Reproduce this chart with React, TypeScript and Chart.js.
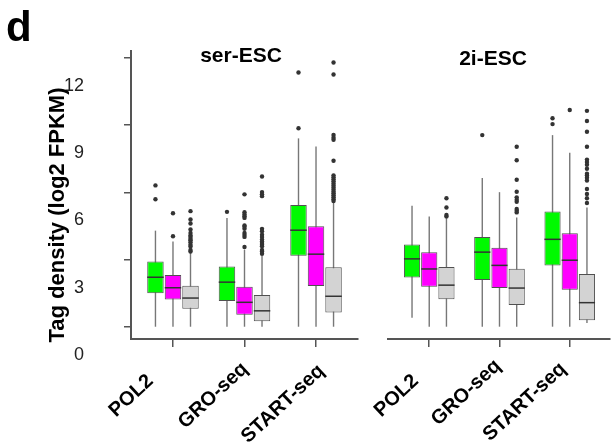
import React, { useEffect, useRef } from 'react';
import { Chart, registerables } from 'chart.js';
Chart.register(...registerables);

const FONT = '"Liberation Sans", Arial, Helvetica, sans-serif';

const groups = ['POL2', 'GRO-seq', 'START-seq'];
const panelTitles = ['ser-ESC', '2i-ESC'];
const seriesColors = ['#00fa00', '#ff00ff', '#d3d3d3'];
const seriesOffsets = [-0.245, 0, 0.245];
const yTicks = [0, 3, 6, 9, 12];
// small nudges (px) of the rotated category labels, per panel: [dx, dy]
const labelNudgeLeft = [[-30, 10], [-7, -2], [-2, 0]];
const labelNudgeRight = [[-21, 10], [-9, -5], [-14, -2]];

// five-number summaries per group: [min, q1, median, q3, max]
const serGreen = [[0, 1.49, 2.21, 2.91, 4.29], [0, 1.15, 1.99, 2.69, 4.86], [0, 3.17, 4.31, 5.43, 8.41]];
const serMagenta = [[0, 1.22, 1.74, 2.31, 3.81], [0, 0.54, 1.09, 1.78, 3.44], [0, 1.82, 3.24, 4.49, 8.05]];
const serGray = [[0, 0.8, 1.28, 1.83, 3.29], [0, 0.25, 0.71, 1.42, 3.17], [0, 0.64, 1.36, 2.66, 5.55]];

const serGreenOut = [[6.31, 5.69], [5.13], [8.86, 11.35]];
const serMagentaOut = [[5.07, 4.04], [5.91, 5.11, 5.01, 4.93, 4.86, 4.52, 4.46, 4.37, 4.19, 4.1, 4.01, 3.56], []];
const serGrayOut = [
  [5.16, 4.79, 4.61, 4.34, 4.19, 4.07, 4.01, 3.92, 3.86, 3.77, 3.66, 3.58, 3.43, 3.36],
  [6.71, 6.01, 5.91, 5.83, 4.37, 4.26, 4.11, 4.01, 3.89, 3.81, 3.74, 3.66, 3.59, 3.43, 3.36, 3.26],
  [11.8, 11.26, 8.56, 8.44, 8.35, 7.41, 6.76, 6.67, 6.58, 6.49, 6.4, 6.31, 6.22, 6.13, 6.04, 5.96, 5.87, 5.78, 5.69, 5.61],
];

const twoiGreen = [[0.4, 2.19, 3.02, 3.66, 5.38], [0, 2.08, 3.32, 3.99, 6.62], [0, 2.72, 3.89, 5.13, 8.53]];
const twoiMagenta = [[0, 1.78, 2.57, 3.32, 4.91], [0, 1.72, 2.73, 3.51, 5.99], [0, 1.64, 2.96, 4.16, 7.75]];
const twoiGray = [[0, 1.22, 1.85, 2.66, 4.86], [0, 0.97, 1.72, 2.58, 4.86], [0.16, 0.29, 1.07, 2.35, 5.31]];

const twoiGreenOut = [[], [8.53], [9.28, 9.02]];
const twoiMagentaOut = [[], [], [9.65]];
const twoiGrayOut = [
  [5.72, 5.31, 4.97, 4.91],
  [8.01, 7.41, 6.54, 6.01, 5.76, 5.65, 5.56, 5.24, 5.16, 5.09],
  [9.61, 9.16, 8.68, 8.01, 7.44, 7.33, 7.21, 7.03, 6.81, 6.73, 6.63, 6.51, 6.13, 5.91, 5.72, 5.51],
];

type Stats = number[][];

function makeConfig(stats: Stats[], outs: number[][][], left: boolean, title: string) {
  const datasets: any[] = [];
  const nudges = left ? labelNudgeLeft : labelNudgeRight;
  stats.forEach((st, s) => {
    datasets.push({
      type: 'bar',
      data: groups.map((_, gi) => ({ x: gi + seriesOffsets[s], y: [st[gi][1], st[gi][3]] })),
      backgroundColor: seriesColors[s],
      borderColor: '#505050',
      borderWidth: 1,
      borderSkipped: false,
      grouped: false,
      barPercentage: 0.94,
      categoryPercentage: 1,
    });
  });
  outs.forEach((o, s) => {
    const pts: any[] = [];
    o.forEach((vals, gi) => vals.forEach((v) => pts.push({ x: gi + seriesOffsets[s], y: v })));
    datasets.push({
      type: 'scatter',
      data: pts,
      pointRadius: 2.2,
      pointBackgroundColor: '#333',
      pointBorderWidth: 0,
      borderWidth: 0,
    });
  });

  const boxPlugin = {
    id: 'boxParts',
    beforeDatasetsDraw(chart: any) {
      const ctx = chart.ctx;
      const xs = chart.scales.x;
      const ys = chart.scales.y;
      ctx.save();
      ctx.strokeStyle = '#777';
      ctx.lineWidth = 1.4;
      stats.forEach((st, s) => {
        st.forEach((row, gi) => {
          const px = xs.getPixelForValue(gi + seriesOffsets[s]);
          ctx.beginPath();
          ctx.moveTo(px, ys.getPixelForValue(row[0]));
          ctx.lineTo(px, ys.getPixelForValue(row[4]));
          ctx.stroke();
        });
      });
      ctx.restore();
    },
    afterDatasetsDraw(chart: any) {
      const ctx = chart.ctx;
      const xs = chart.scales.x;
      const ys = chart.scales.y;
      ctx.save();
      ctx.strokeStyle = '#333';
      ctx.lineWidth = 1.5;
      stats.forEach((st, s) => {
        const meta = chart.getDatasetMeta(s);
        st.forEach((row, gi) => {
          const el = meta.data[gi];
          const w = el ? el.width : 16;
          const px = xs.getPixelForValue(gi + seriesOffsets[s]);
          const py = ys.getPixelForValue(row[2]);
          ctx.beginPath();
          ctx.moveTo(px - w / 2, py);
          ctx.lineTo(px + w / 2, py);
          ctx.stroke();
        });
      });
      ctx.restore();
    },
    afterDraw(chart: any) {
      const ctx = chart.ctx;
      const ca = chart.chartArea;
      const xs = chart.scales.x;
      ctx.save();
      ctx.fillStyle = '#000';
      ctx.textAlign = 'center';
      ctx.textBaseline = 'middle';
      ctx.font = `bold 21px ${FONT}`;
      ctx.fillText(title, left ? ca.left + 110 : ca.left + 105, left ? 56 : 59);
      // rotated category labels
      ctx.font = `bold 20px ${FONT}`;
      groups.forEach((g, i) => {
        ctx.save();
        ctx.translate(xs.getPixelForValue(i) + nudges[i][0], ca.bottom + 21 + nudges[i][1]);
        ctx.rotate((-43 * Math.PI) / 180);
        ctx.textAlign = 'right';
        ctx.textBaseline = 'middle';
        ctx.fillText(g, 0, 11);
        ctx.restore();
      });
      if (left) {
        ctx.textAlign = 'left';
        ctx.textBaseline = 'alphabetic';
        ctx.font = `bold 42px ${FONT}`;
        ctx.fillText('d', 6, 41);
        ctx.translate(64, 215);
        ctx.rotate(-Math.PI / 2);
        ctx.textAlign = 'center';
        ctx.font = `bold 22px ${FONT}`;
        ctx.fillText('Tag density (log2 FPKM)', 0, 0);
      }
      ctx.restore();
    },
  };

  return {
    type: 'bar',
    data: { datasets },
    plugins: [boxPlugin],
    options: {
      animation: false,
      responsive: false,
      devicePixelRatio: 1,
      events: [],
      layout: { padding: left ? { left: 0, top: 50, right: 15, bottom: 0 } : { left: 15, top: 50, right: 0, bottom: 0 } },
      plugins: { legend: { display: false }, tooltip: { enabled: false }, title: { display: false } },
      scales: {
        x: {
          type: 'linear',
          offset: false,
          min: -0.587,
          max: left ? 2.587 : 2.573,
          afterBuildTicks: (sc: any) => {
            sc.ticks = groups.map((_, i) => ({ value: i }));
          },
          afterFit: (sc: any) => {
            sc.height = 106;
          },
          ticks: { display: false },
          grid: { offset: false, drawOnChartArea: false, drawTicks: true, tickLength: 8, color: '#555', lineWidth: 1.5 },
          border: { display: true, color: '#555', width: 2 },
        },
        y: {
          type: 'linear',
          display: left,
          min: -0.548,
          max: 12.32,
          afterBuildTicks: (sc: any) => {
            sc.ticks = yTicks.map((v) => ({ value: v }));
          },
          afterFit: (sc: any) => {
            if (left) sc.width = 131;
          },
          ticks: {
            padding: 40,
            labelOffset: 28,
            color: '#222',
            font: { family: FONT, size: 18 },
          },
          grid: { drawOnChartArea: false, drawTicks: true, tickLength: 7, color: '#555', lineWidth: 1.5 },
          border: { display: true, color: '#555', width: 2 },
        },
      },
    },
  };
}

function Panel(props: { left: boolean; width: number; x: number }) {
  const ref = useRef<HTMLCanvasElement | null>(null);
  useEffect(() => {
    if (!ref.current) return;
    const cfg = props.left
      ? makeConfig([serGreen, serMagenta, serGray], [serGreenOut, serMagentaOut, serGrayOut], true, panelTitles[0])
      : makeConfig([twoiGreen, twoiMagenta, twoiGray], [twoiGreenOut, twoiMagentaOut, twoiGrayOut], false, panelTitles[1]);
    const chart = new Chart(ref.current, cfg as any);
    return () => chart.destroy();
  }, [props.left]);
  return (
    <div style={{ position: 'absolute', left: props.x, top: 0, width: props.width, height: 445 }}>
      <canvas ref={ref} width={props.width} height={445} style={{ display: 'block', width: props.width, height: 445 }} />
    </div>
  );
}

export default function App() {
  return (
    <div style={{ position: 'absolute', left: 0, top: 0, width: 614, height: 445, overflow: 'hidden', background: '#fff' }}>
      <Panel left={true} width={373} x={0} />
      <Panel left={false} width={241} x={373} />
    </div>
  );
}
